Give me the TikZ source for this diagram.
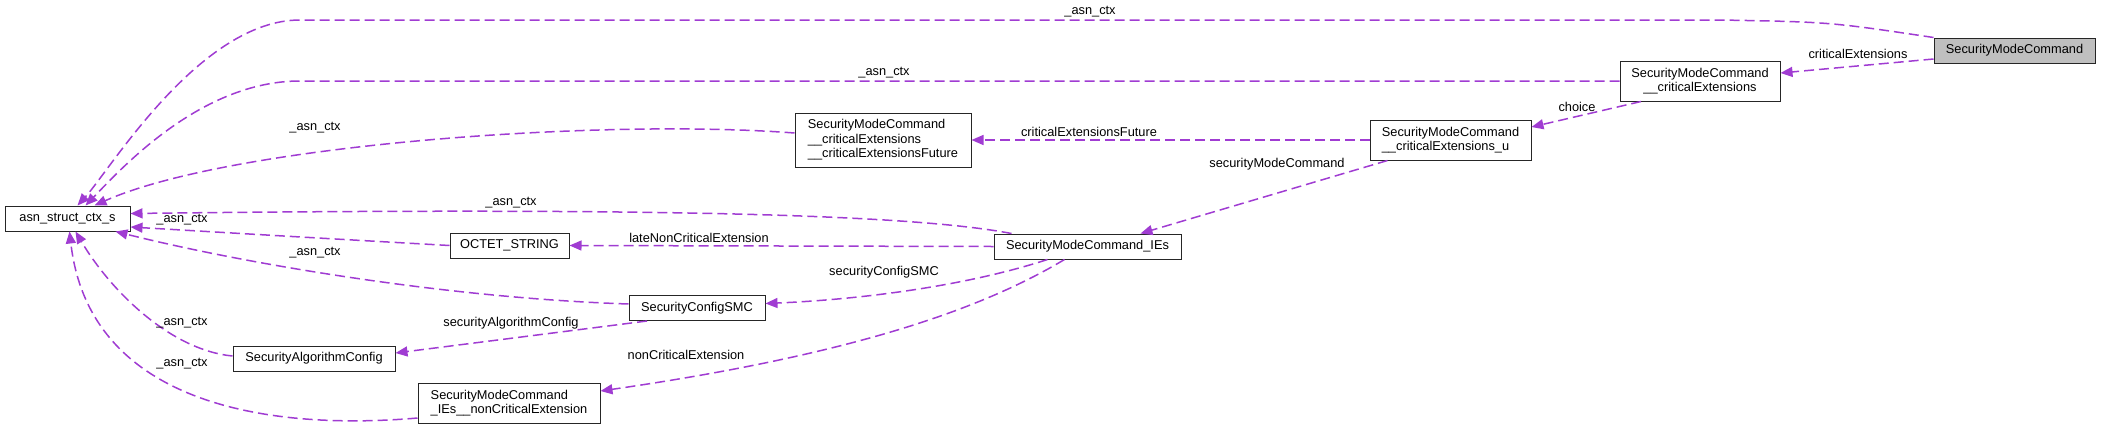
\documentclass[tikz,border=0pt]{standalone}
\usepackage{fontspec}
\usepackage{tikz}
\usetikzlibrary{arrows.meta}
\newfontfamily\doxfont{Liberation Sans}
\definecolor{cuse}{RGB}{160,60,210}
\definecolor{cmain}{RGB}{191,191,191}
\newcommand{\dox}{\doxfont\fontsize{12.8}{14.5}\selectfont}
\tikzset{
  cls/.style={draw=black!85, line width=1pt, fill=white, font=\dox, align=left,
    inner xsep=4pt, inner ysep=2pt, minimum height=25pt},
  use/.style={cuse, line width=1.5pt, dash pattern=on 10pt off 5pt,
    -{Triangle[length=12pt,width=10pt]}},
  lab/.style={font=\dox, inner sep=1pt},
}

\begin{document}
\begin{tikzpicture}[x=1pt,y=-1pt]
    \useasboundingbox (0,0) rectangle (2107,429);
    % classes
    \node[cls, minimum width=125pt] (asn) at (67.5,218.5) {asn\_struct\_ctx\_s};
    \node[cls, minimum width=161pt, fill=cmain] (smc) at (2014.5,50.5) {SecurityModeCommand};
    \node[cls, minimum width=160pt, minimum height=40pt, align=center] (crit) at (1700,81)
         {SecurityModeCommand\\\_\_criticalExtensions};
    \node[cls, minimum width=161pt, minimum height=40pt] (critu) at (1450.5,140)
         {SecurityModeCommand\\\_\_criticalExtensions\_u};
    \node[cls, minimum width=176pt, minimum height=54pt] (future) at (883,140)
         {SecurityModeCommand\\\_\_criticalExtensions\\\_\_criticalExtensionsFuture};
    \node[cls, minimum width=187pt] (ies) at (1087.5,246.5) {SecurityModeCommand\_IEs};
    \node[cls, minimum width=119pt] (octet) at (509.5,245.5) {OCTET\_STRING};
    \node[cls, minimum width=136pt] (scsmc) at (697,308) {SecurityConfigSMC};
    \node[cls, minimum width=162pt] (sac) at (314,358.5) {SecurityAlgorithmConfig};
    \node[cls, minimum width=182pt, minimum height=40pt] (noncrit) at (509,403)
         {SecurityModeCommand\\\_IEs\_\_nonCriticalExtension};

    % usage edges
    \draw[use] (smc.north west) .. controls (1830,22) .. (1720,20) -- (300,20)
         .. controls (200,20) and (110,170) .. ([xshift=10]asn.north);
    \draw[use] (crit.west) -- (300,81) .. controls (200,81) and (120,170) .. ([xshift=18]asn.north);
    \draw[use] ([yshift=7]future.west) .. controls (600,118) and (230,145) .. ([xshift=27]asn.north);
    \draw[use] ([xshift=18]ies.north west) .. controls (900,212) and (600,208) .. ([yshift=5]asn.east);
    \draw[use] (octet.west) .. controls (300,237) .. ([yshift=-8.5]asn.east);
    \draw[use] ([yshift=4]scsmc.west) .. controls (450,298) and (250,265) .. ([xshift=-15]asn.south east);
    \draw[use] ([yshift=2.5]sac.west) .. controls (170,350) and (110,290) .. ([xshift=8]asn.south);
    \draw[use] ([yshift=-15]noncrit.west) .. controls (280,430) and (90,410) .. ([xshift=2]asn.south);
    \draw[use] ([yshift=-8.5]smc.west) -- ([yshift=8]crit.east);
    \draw[use] ([xshift=-59]crit.south) -- ([yshift=13]critu.east);
    \draw[use] (critu.west) -- (future.east);
    \draw[use] ([xshift=-63]critu.south) -- ([xshift=53]ies.north);
    \draw[use] (ies.west) -- (octet.east);
    \draw[use] ([xshift=-40]ies.south) .. controls (960,288) and (850,300) .. ([yshift=4.5]scsmc.east);
    \draw[use] ([xshift=-50]scsmc.south) -- ([yshift=5.5]sac.east);
    \draw[use] ([xshift=-23]ies.south) .. controls (980,310) and (850,355) .. ([yshift=12]noncrit.east);

    % edge labels
    \node[lab] (ctxA) at (1090,12) {\_asn\_ctx};
    \node[lab] (ctxB) at (884,73) {\_asn\_ctx};
    \node[lab] (ctxC) at (315,128) {\_asn\_ctx};
    \node[lab] (ctxD) at (511,203) {\_asn\_ctx};
    \node[lab] (ctxE) at (182,220) {\_asn\_ctx};
    \node[lab] (ctxF) at (315,253) {\_asn\_ctx};
    \node[lab] (ctxG) at (182,323) {\_asn\_ctx};
    \node[lab] (ctxH) at (182,364) {\_asn\_ctx};
    \node[lab] (labCrit) at (1858,54) {criticalExtensions};
    \node[lab] (labChoice) at (1577,107) {choice};
    \node[lab] (labFuture) at (1089,132) {criticalExtensionsFuture};
    \node[lab] (labSmc) at (1277,164) {securityModeCommand};
    \node[lab] (labLate) at (699,238) {lateNonCriticalExtension};
    \node[lab] (labConf) at (884,272) {securityConfigSMC};
    \node[lab] (labAlg) at (511,323) {securityAlgorithmConfig};
    \node[lab] (labNon) at (686,355) {nonCriticalExtension};
  \end{tikzpicture}
\end{document}
